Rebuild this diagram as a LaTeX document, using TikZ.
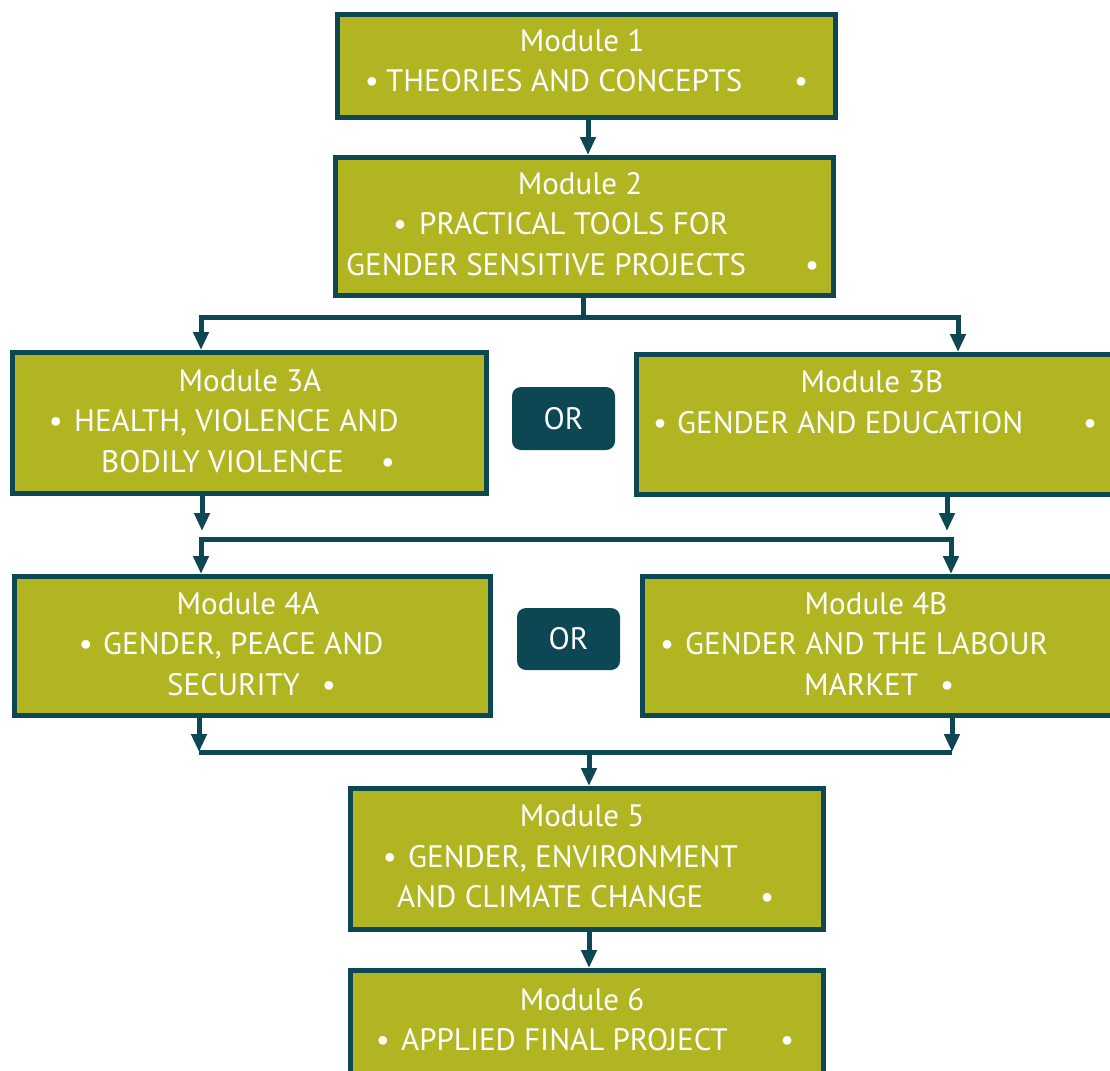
\documentclass[tikz,border=0pt]{standalone}
\usepackage{fontspec}
\setmainfont{PT Sans}
\usetikzlibrary{arrows.meta}
\definecolor{modfill}{HTML}{B1B522}
\definecolor{modline}{HTML}{0C4753}
\begin{document}
\begin{tikzpicture}[x=1pt,y=-1pt,
  modbox/.style={draw=modline, fill=modfill, line width=5pt, inner sep=0pt},
  orbox/.style={fill=modline, rounded corners=9pt, inner sep=0pt, text=white, font=\fontsize{31}{36}\selectfont},
  txt/.style={text=white, font=\fontsize{31}{36}\selectfont, inner sep=0pt, anchor=base west},
  ctr/.style={text=white, font=\fontsize{31}{36}\selectfont, inner sep=0pt, anchor=base},
  conn/.style={draw=modline, line width=5pt},
  arr/.style={conn, -{Triangle[width=15pt,length=18pt]}}]
\useasboundingbox (0,0) rectangle (1110,1070);
% boxes
\node[modbox, minimum width=498pt, minimum height=103pt] (m1) at (586.5,66) {};
\node[modbox, minimum width=498pt, minimum height=138pt] (m2) at (584.5,226.5) {};
\node[modbox, minimum width=474pt, minimum height=141pt] (m3a) at (249.5,423) {};
\node[modbox, minimum width=493pt, minimum height=140pt] (m3b) at (883,424.5) {};
\node[modbox, minimum width=476pt, minimum height=139pt] (m4a) at (252.5,646) {};
\node[modbox, minimum width=485pt, minimum height=139pt] (m4b) at (885,646) {};
\node[modbox, minimum width=473pt, minimum height=141pt] (m5) at (587,859) {};
\node[modbox, minimum width=473pt, minimum height=127pt] (m6) at (587,1034) {};
% OR boxes
\node[orbox, minimum width=103pt, minimum height=63pt] (or1) at (563.5,418.5) {OR};
\node[orbox, minimum width=103pt, minimum height=62pt] (or2) at (568.5,639) {OR};
% texts
\node[ctr] (t1a) at (582,52) {Module 1};
\node[ctr] (b1a) at (372,92) {•};
\node[txt] (t1b) at (386,92) {THEORIES AND CONCEPTS};
\node[ctr] (b1b) at (801,92) {•};

\node[ctr] (t2a) at (580,194) {Module 2};
\node[ctr] (b2a) at (400,234) {•};
\node[txt] (t2b) at (419,234) {PRACTICAL TOOLS FOR};
\node[txt] (t2c) at (346,275) {GENDER SENSITIVE PROJECTS};
\node[ctr] (b2b) at (812,275) {•};

\node[ctr] (t3a) at (250,391) {Module 3A};
\node[ctr] (b3a) at (56,431) {•};
\node[txt] (t3b) at (74,431) {HEALTH, VIOLENCE AND};
\node[txt] (t3c) at (101,472) {BODILY VIOLENCE};
\node[ctr] (b3b) at (388,472) {•};

\node[ctr] (t3d) at (872,392) {Module 3B};
\node[ctr] (b3c) at (660,433) {•};
\node[txt] (t3e) at (677,433) {GENDER AND EDUCATION};
\node[ctr] (b3d) at (1090,433) {•};

\node[ctr] (t4a) at (248,614) {Module 4A};
\node[ctr] (b4a) at (86,654) {•};
\node[txt] (t4b) at (103,654) {GENDER, PEACE AND};
\node[txt] (t4c) at (167,695) {SECURITY};
\node[ctr] (b4b) at (329,695) {•};

\node[ctr] (t4d) at (876,614) {Module 4B};
\node[ctr] (b4c) at (667,654) {•};
\node[txt] (t4e) at (685,654) {GENDER AND THE LABOUR};
\node[txt] (t4f) at (804,695) {MARKET};
\node[ctr] (b4d) at (947,695) {•};

\node[ctr] (t5a) at (582,826) {Module 5};
\node[ctr] (b5a) at (390,867) {•};
\node[txt] (t5b) at (408,867) {GENDER, ENVIRONMENT};
\node[txt] (t5c) at (397,907) {AND CLIMATE CHANGE};
\node[ctr] (b5b) at (767,907) {•};

\node[ctr] (t6a) at (582,1010) {Module 6};
\node[ctr] (b6a) at (383,1050) {•};
\node[txt] (t6b) at (401,1050) {APPLIED FINAL PROJECT};
\node[ctr] (b6b) at (787,1050) {•};
% connectors
\coordinate (j1) at (588,0);
\draw[arr] (m1.south -| j1) -- (m2.north -| j1);
\coordinate (s2) at (583,317);
\coordinate (l2) at (201,317);
\coordinate (r2) at (958,317);
\draw[conn] (m2.south -| s2) -- (s2);
\draw[arr] (s2) -- (l2) -- (l2 |- m3a.north);
\draw[arr] (s2) -- (r2) -- (r2 |- m3b.north);
\coordinate (a3) at (202,531);
\coordinate (b3) at (947,531);
\draw[arr] (m3a.south -| a3) -- (a3);
\draw[arr] (m3b.south -| b3) -- (b3);
\coordinate (l3) at (201,539);
\coordinate (r3) at (951,539);
\draw[arr] (r3) -- (l3) -- (l3 |- m4a.north);
\draw[arr] (l3) -- (r3) -- (r3 |- m4b.north);
\coordinate (l4) at (199,752);
\coordinate (r4) at (952,752);
\coordinate (c4) at (589,752);
\draw[arr] (m4a.south -| l4) -- (l4);
\draw[arr] (m4b.south -| r4) -- (r4);
\draw[conn] (l4) -- (r4);
\draw[arr] (c4) -- (c4 |- m5.north);
\coordinate (c5) at (589,0);
\draw[arr] (m5.south -| c5) -- (m6.north -| c5);
\end{tikzpicture}
\end{document}
